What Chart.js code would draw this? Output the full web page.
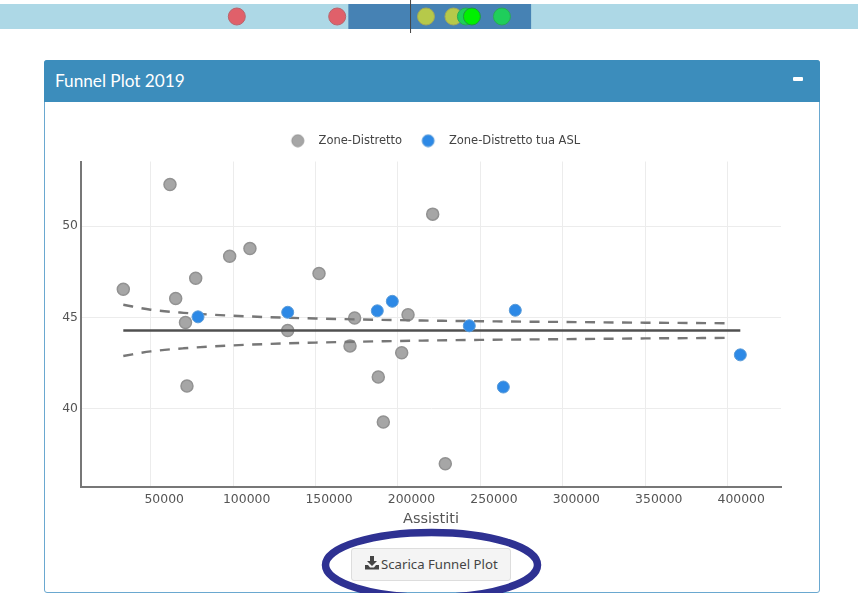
<!DOCTYPE html>
<html>
<head>
<meta charset="utf-8">
<script src="https://cdn.jsdelivr.net/npm/chart.js@4"></script>
<style>
html,body{margin:0;padding:0;background:#fff;width:858px;height:593px;overflow:hidden}
#strip{position:absolute;left:0;top:0}
#panel{position:absolute;left:44px;top:60px;width:774px;height:531px;border:1px solid #6aa8d0;border-radius:3px;box-sizing:content-box}
#head{position:absolute;left:44px;top:60px;width:776px;height:42px;background:#3c8dbc;border-radius:3px 3px 0 0;color:#fff;font:17.2px Lato,"Noto Sans",sans-serif}
#head span{position:absolute;left:11px;top:10px}
#minus{position:absolute;left:749px;top:17px;width:10px;height:4px;background:#fff;border-radius:1px}
#funnel{position:absolute;left:44px;top:104px}
#btn{position:absolute;left:351px;top:548px;width:160px;height:33px;box-sizing:border-box;background:#f4f4f4;border:1px solid #ddd;border-radius:3px;color:#444;font:13.2px "Noto Sans",sans-serif;line-height:30px;text-align:left;padding-left:29px;white-space:nowrap}
#btn svg{position:absolute;left:13px;top:7px}
#ring{position:absolute;left:0;top:0;pointer-events:none}
</style>
</head>
<body>
<canvas id="strip" width="858" height="33"></canvas>
<div id="panel"></div>
<div id="head"><span>Funnel Plot 2019</span><div id="minus"></div></div>
<canvas id="funnel" width="775" height="430"></canvas>
<div id="btn"><svg width="14" height="14" viewBox="0 0 14 14"><path d="M5 0h4v5h3L7 10 2 5h3z" fill="#444"/><path d="M0 9h3l2 2.5h4L11 9h3v4.5H0z" fill="#444"/></svg>Scarica Funnel Plot</div>
<svg id="ring" width="858" height="593"><ellipse cx="431.5" cy="565" rx="106" ry="32.5" fill="none" stroke="#2e3192" stroke-width="7.5"/></svg>
<script>
const grayX=[33380,61700,65160,71100,77300,97900,110200,152100,133100,173700,206100,221050,170900,202250,72000,188050,191100,228700];
const grayY=[46.55,52.28,46.04,44.73,47.15,48.36,48.78,47.41,44.29,44.98,45.16,50.66,43.45,43.08,41.26,41.75,39.29,37.0];
const blueX=[78700,133100,187450,196550,243250,271150,263900,407650];
const blueY=[45.04,45.29,45.37,45.89,44.55,45.40,41.2,42.96];
const meanX=[33380,407650];
const meanY=[44.29,44.29];
const limitX=[33380,50000,70000,100000,133000,150000,200000,250000,300000,350000,402000];
const upperY=[45.70,45.43,45.26,45.10,44.99,44.95,44.86,44.80,44.76,44.72,44.69];
const lowerY=[42.90,43.15,43.32,43.48,43.59,43.63,43.72,43.78,43.82,43.86,43.89];
const xTicks=[50000,100000,150000,200000,250000,300000,350000,400000];
const yTicks=[40,45,50];
const seriesNames=["Zone-Distretto","Zone-Distretto tua ASL"];
const xTitle="Assistiti";
const stripRedX=[27.6,39.3];
const stripYellowX=[49.65,52.85];
const stripGreenX=[54.3,58.5];
const stripLimeX=[55.0];
const stripBand=[0,100];
const stripRange=[40.6,61.9];
const stripMarker=47.85;

const pairs=(xs,ys)=>xs.map((x,i)=>({x,y:ys[i]}));
const flat=xs=>xs.map(x=>({x,y:0}));

new Chart(document.getElementById('strip'),{
  type:'scatter',
  data:{datasets:[
    {data:flat(stripRedX),backgroundColor:'#e0606a',borderColor:'#b9646c',borderWidth:1,pointRadius:8.5,order:2},
    {data:flat(stripYellowX),backgroundColor:'#b6c94a',borderColor:'#a3a957',borderWidth:1,pointRadius:8.5,order:2},
    {data:flat(stripGreenX),backgroundColor:'#1fce5b',borderColor:'#2aa956',borderWidth:1,pointRadius:8.5,order:1},
    {data:flat(stripLimeX),backgroundColor:'#00f000',borderColor:'#1f9a3f',borderWidth:1,pointRadius:8.5,order:0},
    {type:'line',data:[{x:stripMarker,y:-1},{x:stripMarker,y:1}],borderColor:'#444',borderWidth:1,pointRadius:0,order:3},
    {type:'line',data:flat(stripRange),borderColor:'#4682b4',borderWidth:25,pointRadius:0,order:4},
    {type:'line',data:flat(stripBand),borderColor:'#add8e6',borderWidth:25,pointRadius:0,order:5}
  ]},
  options:{responsive:false,animation:false,layout:{padding:0,autoPadding:false},
    plugins:{legend:{display:false},tooltip:{enabled:false}},
    scales:{x:{type:'linear',display:false,min:0,max:100},y:{display:false,min:-1,max:1}}}
});

const legendFit={id:'legendFit',
  beforeInit(chart){
    const fit=chart.legend.fit;
    chart.legend.fit=function(){fit.call(this);this.height+=5;};
  },
  afterLayout(chart){
    chart.legend.left+=19;
    chart.legend.right+=19;
  }
};

function legendDot(fill,stroke){
  const c=document.createElement('canvas');
  c.width=30;c.height=14;
  const g=c.getContext('2d');
  g.beginPath();g.arc(15,7,6,0,Math.PI*2);
  g.fillStyle=fill;g.fill();
  g.lineWidth=1;g.strokeStyle=stroke;g.stroke();
  return c;
}
const grayStyle={fill:'#a6a6a6',stroke:'#929292'};
const blueStyle={fill:'#2d89e6',stroke:'#5a9bd8'};
const dots=[legendDot(grayStyle.fill,grayStyle.stroke),legendDot(blueStyle.fill,blueStyle.stroke)];

new Chart(document.getElementById('funnel'),{
  type:'scatter',
  plugins:[legendFit],
  data:{datasets:[
    {label:seriesNames[0],data:pairs(grayX,grayY),backgroundColor:grayStyle.fill,borderColor:grayStyle.stroke,borderWidth:1.5,pointRadius:6,order:3},
    {label:seriesNames[1],data:pairs(blueX,blueY),backgroundColor:blueStyle.fill,borderColor:blueStyle.stroke,borderWidth:1,pointRadius:6,order:0},
    {type:'line',label:'mean',data:pairs(meanX,meanY),borderColor:'#505050',borderWidth:2.4,pointRadius:0,order:2},
    {type:'line',label:'upper',data:pairs(limitX,upperY),borderColor:'#777',borderWidth:2.4,borderDash:[10,8.5],pointRadius:0,cubicInterpolationMode:'monotone',order:1},
    {type:'line',label:'lower',data:pairs(limitX,lowerY),borderColor:'#777',borderWidth:2.4,borderDash:[10,8.5],pointRadius:0,cubicInterpolationMode:'monotone',order:1}
  ]},
  options:{responsive:false,animation:false,
    layout:{padding:{top:20,right:38,left:0,bottom:6}},
    plugins:{tooltip:{enabled:false},
      legend:{position:'top',align:'center',
        labels:{usePointStyle:true,pointStyleWidth:30,boxHeight:11,padding:11,color:'#444',
          font:{family:'"DejaVu Sans"',size:11.5},
          filter:item=>seriesNames.includes(item.text),
          sort:(a,b)=>a.datasetIndex-b.datasetIndex,
          generateLabels:chart=>Chart.defaults.plugins.legend.labels.generateLabels(chart).map(item=>{
            item.pointStyle=dots[item.datasetIndex]||'circle';
            return item;
          })}}},
    scales:{
      x:{type:'linear',min:7722,max:432330,
        afterBuildTicks:a=>{a.ticks=xTicks.map(value=>({value}));},
        afterFit:s=>{s.height=41;},
        grid:{color:'#ececec',drawTicks:false},
        border:{color:'#777',width:2},
        ticks:{callback:v=>String(v),color:'#555',font:{family:'"DejaVu Sans"',size:12.4},padding:5,labelOffset:13.5,maxRotation:0,autoSkip:false},
        title:{display:true,text:xTitle,color:'#555',font:{family:'"DejaVu Sans"',size:14.5},padding:{top:4,bottom:0}}},
      y:{min:35.73,max:53.54,
        afterBuildTicks:a=>{a.ticks=yTicks.map(value=>({value}));},
        afterFit:s=>{s.width=37;},
        grid:{color:'#ececec',drawTicks:false},
        border:{color:'#777',width:2},
        ticks:{color:'#555',font:{family:'"DejaVu Sans"',size:12.4},padding:3}}
    }}
});
</script>
</body>
</html>
